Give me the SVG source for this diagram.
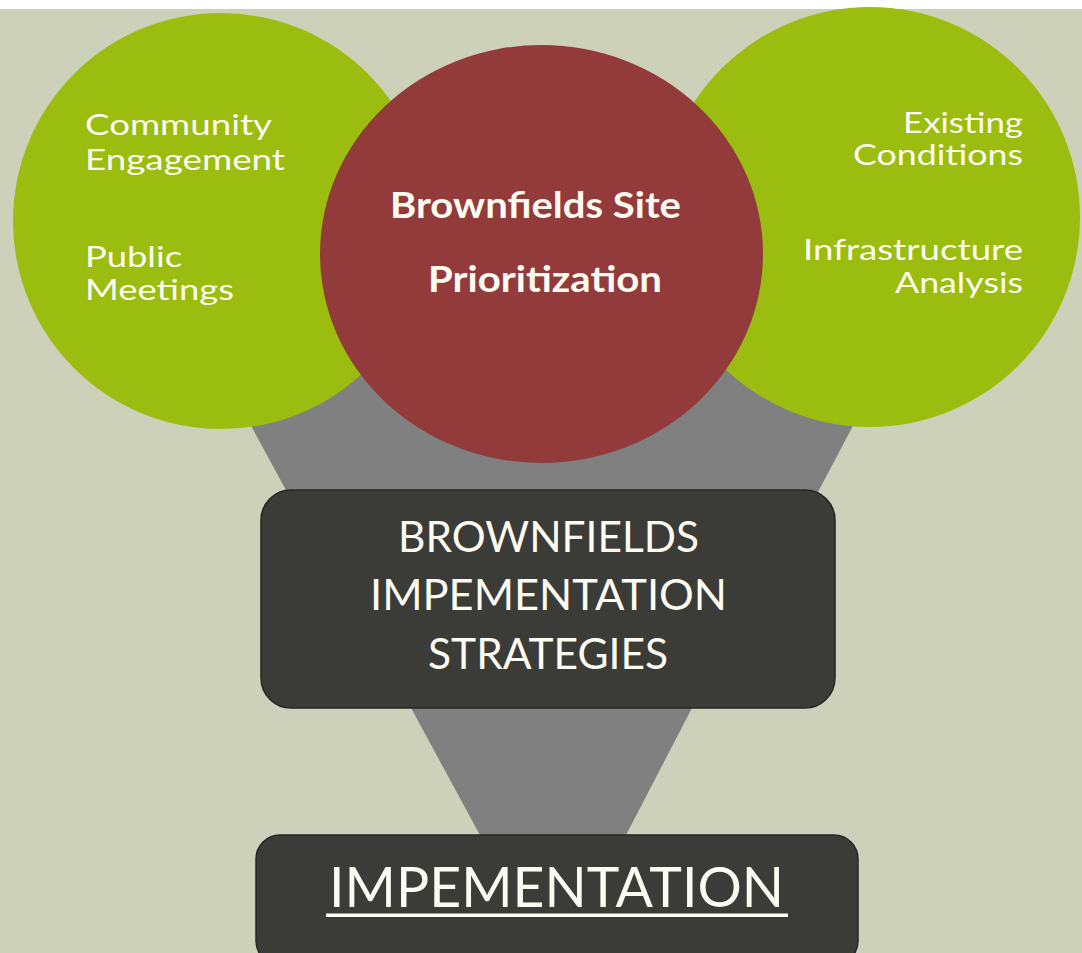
<svg xmlns="http://www.w3.org/2000/svg" width="1082" height="953" viewBox="0 0 1082 953">
  <defs>
    <style>
      .green { fill: #9bbd0f; }
      .red { fill: #933a3a; }
      .funnel { fill: #808080; }
      .box { fill: #3b3c38; stroke: #262624; stroke-width: 1.5; }
      .lbl { font-family: Lato, "Open Sans", "Liberation Sans", sans-serif; fill: #fbfbf2; }
      .small { font-size: 28.5px; }
      .bold { font-weight: bold; }
    </style>
  </defs>
  <rect x="0" y="0" width="1082" height="953" fill="#cdd1ba"/>
  <rect x="0" y="0" width="1082" height="9" fill="#ffffff"/>

  <g id="connectors">
    <polygon class="funnel" points="210,350 893,350 818,492 287,492"/>
    <polygon class="funnel" points="410,706 693,706 625,837 481,837"/>
  </g>

  <g id="node-community">
    <circle class="green" cx="221" cy="221" r="208"/>
    <text class="lbl small" x="85" y="135" textLength="187" lengthAdjust="spacingAndGlyphs">Community</text>
    <text class="lbl small" x="85" y="170" textLength="200" lengthAdjust="spacingAndGlyphs">Engagement</text>
    <text class="lbl small" x="85" y="267" textLength="97" lengthAdjust="spacingAndGlyphs">Public</text>
    <text class="lbl small" x="85" y="300" textLength="149" lengthAdjust="spacingAndGlyphs">Meetings</text>
  </g>

  <g id="node-existing">
    <circle class="green" cx="870" cy="217" r="210"/>
    <text class="lbl small" x="903" y="133" textLength="120" lengthAdjust="spacingAndGlyphs">Existing</text>
    <text class="lbl small" x="853" y="165" textLength="170" lengthAdjust="spacingAndGlyphs">Conditions</text>
    <text class="lbl small" x="803" y="260" textLength="220" lengthAdjust="spacingAndGlyphs">Infrastructure</text>
    <text class="lbl small" x="895" y="293" textLength="128" lengthAdjust="spacingAndGlyphs">Analysis</text>
  </g>

  <g id="node-prioritization">
    <ellipse class="red" cx="541.5" cy="254" rx="221.5" ry="209"/>
    <text class="lbl bold" font-size="36" x="390" y="218" textLength="291" lengthAdjust="spacingAndGlyphs">Brownfields Site</text>
    <text class="lbl bold" font-size="36" x="428" y="292" textLength="234" lengthAdjust="spacingAndGlyphs">Prioritization</text>
  </g>

  <g id="node-strategies">
    <rect class="box" x="261" y="490" width="574" height="218" rx="30" ry="30"/>
    <text class="lbl" font-size="43" x="398" y="552" textLength="301" lengthAdjust="spacingAndGlyphs">BROWNFIELDS</text>
    <text class="lbl" font-size="43" x="370" y="610" textLength="357" lengthAdjust="spacingAndGlyphs">IMPEMENTATION</text>
    <text class="lbl" font-size="43" x="428" y="669" textLength="240" lengthAdjust="spacingAndGlyphs">STRATEGIES</text>
  </g>

  <g id="node-implementation">
    <rect class="box" x="256" y="835" width="602" height="130" rx="24" ry="24"/>
    <text class="lbl" font-size="56" x="329" y="907" textLength="455" lengthAdjust="spacingAndGlyphs">IMPEMENTATION</text>
    <rect x="326" y="913.5" width="462" height="3.5" fill="#fbfbf2"/>
  </g>
</svg>
